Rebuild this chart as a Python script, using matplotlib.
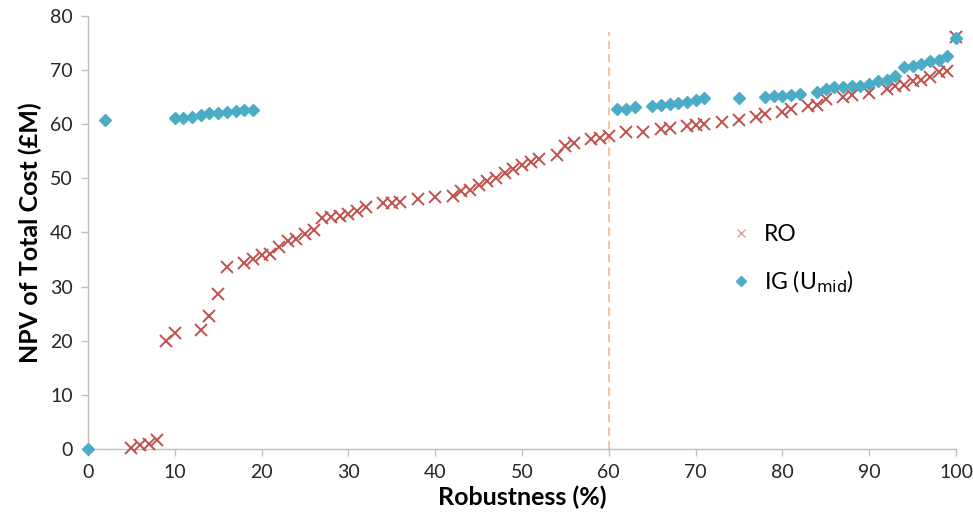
import numpy as np
import matplotlib
matplotlib.use("Agg")
import matplotlib.pyplot as plt
from matplotlib.lines import Line2D

plt.rcParams['font.family'] = ['Lato', 'DejaVu Sans']

# RO results
ro_x = [5, 6, 7, 8, 9, 10, 13, 14, 15, 16, 18, 19, 20, 21, 22, 23, 24, 25, 26,
        27, 28, 29, 30, 31, 32, 34, 35, 36, 38, 40, 42, 43, 44, 45, 46, 47, 48,
        49, 50, 51, 52, 54, 55, 56, 58, 59, 60, 62, 64, 66, 67, 69, 70, 71, 73,
        75, 77, 78, 80, 81, 83, 84, 85, 87, 88, 90, 92, 93, 94, 95, 96, 97, 98,
        99, 100]
ro_y = [0.1, 0.7, 1.0, 1.7, 20.0, 21.4, 21.9, 24.6, 28.7, 33.7, 34.4, 35.1, 35.9,
        36.1, 37.4, 38.5, 38.8, 39.7, 40.4, 42.7, 42.9, 43.0, 43.5, 43.9, 44.8,
        45.4, 45.5, 45.7, 46.2, 46.5, 46.7, 47.6, 47.9, 48.7, 49.6, 50.1, 51.0,
        51.7, 52.4, 53.0, 53.5, 54.3, 56.0, 56.5, 57.2, 57.4, 57.8, 58.5, 58.6,
        59.2, 59.3, 59.7, 59.9, 60.0, 60.5, 60.8, 61.4, 61.9, 62.3, 62.8, 63.4,
        63.6, 64.6, 65.1, 65.4, 65.7, 66.5, 67.0, 67.2, 67.9, 68.1, 68.8, 69.6,
        69.9, 76.1]

# IG (U_mid) results
ig_x = [0, 2, 10, 11, 12, 13, 14, 15, 16, 17, 18, 19, 61, 62, 63, 65, 66, 67,
        68, 69, 70, 71, 75, 78, 79, 80, 81, 82, 84, 85, 86, 87, 88, 89, 90, 91,
        92, 93, 94, 95, 96, 97, 98, 99, 100]
ig_y = [0.0, 60.7, 61.1, 61.2, 61.4, 61.7, 62.0, 62.0, 62.2, 62.4, 62.6, 62.6,
        62.8, 62.8, 63.2, 63.4, 63.5, 63.7, 63.9, 64.2, 64.4, 64.8, 64.8, 65.0,
        65.2, 65.3, 65.4, 65.6, 65.9, 66.6, 66.8, 66.9, 67.0, 67.1, 67.5, 67.9,
        68.2, 68.9, 70.6, 70.8, 71.2, 71.6, 71.8, 72.6, 76.0]

threshold_x = 60
threshold_top = 77

ro_color = '#c0504d'
ig_color = '#4bacc6'
axis_color = '#bfbfbf'

fig = plt.figure(figsize=(9.73, 5.25), dpi=100)
ax = fig.add_axes([0.0904, 0.1448, 0.8921, 0.8247])

ax.vlines(threshold_x, 0, threshold_top, colors='#f8b98a', linestyles=(0, (5, 3)),
          linewidth=1.2, zorder=1)
ax.plot(ro_x, ro_y, linestyle='none', marker='x', markersize=9, markeredgewidth=1.4,
        color=ro_color, zorder=3)
ax.plot(ig_x, ig_y, linestyle='none', marker='D', markersize=6.5,
        color=ig_color, markeredgecolor=ig_color, zorder=4)

ax.set_xlim(0, 100)
ax.set_ylim(0, 80)
ax.set_xticks(np.arange(0, 101, 10))
ax.set_yticks(np.arange(0, 81, 10))
ax.spines['top'].set_visible(False)
ax.spines['right'].set_visible(False)
for s in ['left', 'bottom']:
    ax.spines[s].set_color(axis_color)
    ax.spines[s].set_linewidth(1.0)
ax.tick_params(axis='both', direction='out', length=5, width=1.0, color=axis_color,
               labelsize=14, labelcolor='#262626', pad=6)
for line in ax.lines:
    line.set_clip_on(False)

ax.set_xlabel('Robustness (%)', fontsize=18, fontweight='bold', labelpad=3)
ax.set_ylabel('NPV of Total Cost (£M)', fontsize=18, fontweight='bold', labelpad=6)

handles = [
    Line2D([], [], linestyle='none', marker='x', markersize=6, markeredgewidth=1.0,
           color='#e39a98'),
    Line2D([], [], linestyle='none', marker='D', markersize=5, color=ig_color),
]
ax.legend(handles, ['RO', 'IG (U$_{\\mathrm{mid}}$)'], loc='center left',
          bbox_to_anchor=(0.715, 0.437), frameon=False, fontsize=16.5,
          labelspacing=1.0, handlelength=1.0, handletextpad=0.5)

fig.savefig('out.png', dpi=100)
